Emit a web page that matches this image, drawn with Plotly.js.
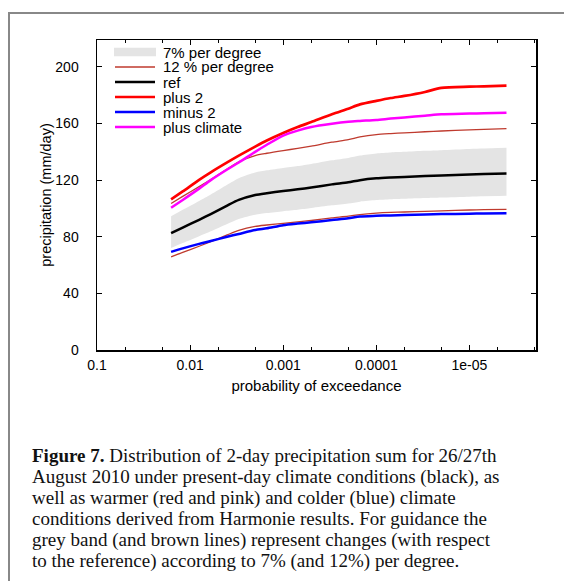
<!DOCTYPE html>
<html>
<head>
<meta charset="utf-8">
<script src="https://cdn.plot.ly/plotly-3.0.1.min.js"></script>
<style>
  html, body { margin:0; padding:0; background:#fff; width:564px; height:581px; overflow:hidden; }
  #frame { position:absolute; left:8px; top:12px; width:700px; height:700px;
           border-left:2px solid #888; border-top:2px solid #888; }
  #chart { position:absolute; left:0; top:0; width:564px; height:581px; }
  #caption { position:absolute; left:32px; top:445px; width:530px;
             font-family:"Liberation Serif","DejaVu Serif",serif; font-size:19px;
             line-height:21px; color:#111; white-space:nowrap; }
</style>
</head>
<body>
<div id="frame"></div>
<div id="chart"></div>
<div id="caption"><b>Figure 7.</b> Distribution of 2-day precipitation sum for 26/27th<br>August 2010 under present-day climate conditions (black), as<br>well as warmer (red and pink) and colder (blue) climate<br>conditions derived from Harmonie results. For guidance the<br>grey band (and brown lines) represent changes (with respect<br>to the reference) according to 7% (and 12%) per degree.</div>
<script>
// probability of exceedance (x)
const prob = [0.016, 0.012, 0.008, 0.006, 0.004, 0.003, 0.002, 0.0015, 0.001, 0.0007, 0.0005,
              0.0003, 0.0002, 0.00015, 0.0001, 0.00007, 0.00005, 0.00003, 0.00002, 0.00001, 0.000007, 0.000004];
// precipitation (mm/day)
const ref = [82.5, 86.5, 92, 96, 102, 106, 109.5, 110.8, 112.3, 113.5, 114.8,
             117, 118.5, 120, 121.3, 121.9, 122.3, 122.9, 123.3, 124, 124.3, 124.7];
const plus2 = [106.4, 112, 120.2, 125.5, 132.5, 137.3, 143.7, 148, 153.3, 157.5, 161,
               166.5, 170.5, 173.5, 176, 178, 179.5, 182.3, 185.2, 186, 186.3, 186.7];
const minus2 = [69.3, 71.8, 75, 77, 80, 82, 84.8, 86, 88.2, 89.3, 90.2,
                91.8, 93, 94.3, 94.8, 95.1, 95.3, 95.7, 96, 96.3, 96.4, 96.6];
const plusClimate = [100.5, 106, 114, 120, 127.5, 132.5, 140, 145, 151.5, 155, 157.5,
                     159.8, 161.2, 161.8, 162.5, 163.5, 164.3, 165.5, 166.5, 167, 167.3, 167.6];
// 7% per degree band
const band7Upper = [94.5, 99.0, 105.3, 109.9, 116.8, 121.4, 125.4, 126.9, 128.6, 129.9, 131.4,
                    134.0, 135.7, 137.4, 138.9, 139.6, 140.0, 140.7, 141.2, 142.0, 142.3, 142.8];
const band7Lower = [72.1, 75.6, 80.4, 83.9, 89.1, 92.6, 95.6, 96.8, 98.1, 99.1, 100.3,
                    102.2, 103.5, 104.8, 105.9, 106.5, 106.8, 107.3, 107.7, 108.3, 108.6, 108.9];
// 12% per degree lines
const line12Upper = [103.5, 108.5, 115.4, 120.4, 127.9, 133.0, 137.4, 139.0, 140.9, 142.4, 144.0,
                     146.8, 148.6, 150.5, 152.2, 152.9, 153.4, 154.2, 154.7, 155.5, 155.9, 156.4];
const line12Lower = [65.8, 69.0, 73.3, 76.5, 81.3, 84.5, 87.3, 88.3, 89.5, 90.5, 91.5,
                     93.3, 94.5, 95.7, 96.7, 97.2, 97.5, 98.0, 98.3, 98.9, 99.1, 99.4];

const xTickVals = [0.1, 0.01, 0.001, 0.0001, 0.00001];
const xTickText = ["0.1", "0.01", "0.001", "0.0001", "1e-05"];
const xMinorVals = [0.05, 0.02, 0.005, 0.002, 0.0005, 0.0002, 0.00005, 0.00002, 0.000005, 0.000002];
const yTickVals = [0, 40, 80, 120, 160, 200];

const legendNames = ["7% per degree", "12 % per degree", "ref", "plus 2", "minus 2", "plus climate"];

const BROWN = "#bf3a2e", GREY = "#e4e4e4";
const sans = "Liberation Sans, Arial, sans-serif";
const SM = 0.7;

const traces = [
  {x: prob, y: band7Lower, mode: "lines", line: {width: 0, color: GREY, shape: "spline", smoothing: SM}, hoverinfo: "skip", showlegend: false},
  {x: prob, y: band7Upper, mode: "lines", fill: "tonexty", fillcolor: GREY, line: {width: 0, color: GREY, shape: "spline", smoothing: SM},
   name: legendNames[0], showlegend: false},
  {x: prob, y: line12Upper, mode: "lines", line: {color: BROWN, width: 1.3, shape: "spline", smoothing: SM}, name: legendNames[1], showlegend: false},
  {x: prob, y: line12Lower, mode: "lines", line: {color: BROWN, width: 1.3, shape: "spline", smoothing: SM}, name: legendNames[1], showlegend: false},
  {x: prob, y: ref, mode: "lines", line: {color: "#000", width: 2.5, shape: "spline", smoothing: SM}, name: legendNames[2], showlegend: false},
  {x: prob, y: plus2, mode: "lines", line: {color: "#ff0000", width: 2.7, shape: "spline", smoothing: SM}, name: legendNames[3], showlegend: false},
  {x: prob, y: minus2, mode: "lines", line: {color: "#0000ff", width: 2.5, shape: "spline", smoothing: SM}, name: legendNames[4], showlegend: false},
  {x: prob, y: plusClimate, mode: "lines", line: {color: "#ff00ff", width: 2.5, shape: "spline", smoothing: SM}, name: legendNames[5], showlegend: false}
];

// plot area in pixels: left 97, right 536, top 40, bottom 350
const PL = 97, PR = 536, PT = 40, PB = 350;
const px = v => (v - PL) / (PR - PL);
const py = v => (PB - v) / (PB - PT);

const legendStyles = [
  {fill: GREY}, {color: BROWN, width: 1.3}, {color: "#000", width: 2.5},
  {color: "#ff0000", width: 2.5}, {color: "#0000ff", width: 2.5}, {color: "#ff00ff", width: 2.5}
];
const shapes = [], annotations = [];
legendNames.forEach((nm, i) => {
  const yc = 52 + i * 15;
  const st = legendStyles[i];
  if (st.fill) {
    shapes.push({type: "rect", xref: "paper", yref: "paper", x0: px(114), x1: px(156),
                 y0: py(yc - 4.3), y1: py(yc + 4.3), fillcolor: st.fill, line: {width: 0}});
  } else {
    shapes.push({type: "line", xref: "paper", yref: "paper", x0: px(115), x1: px(155),
                 y0: py(yc), y1: py(yc), line: {color: st.color, width: st.width}});
  }
  annotations.push({xref: "paper", yref: "paper", x: px(162), y: py(yc), xanchor: "left", yanchor: "middle",
                    borderpad: 0, text: nm, showarrow: false, font: {family: sans, size: 15, color: "#000"}});
});

const layout = {
  width: 564, height: 581,
  margin: {l: PL, r: 564 - PR, t: PT, b: 581 - PB, pad: 0},
  paper_bgcolor: "rgba(0,0,0,0)", plot_bgcolor: "#fff",
  showlegend: false,
  font: {family: sans, size: 14, color: "#000"},
  xaxis: {
    type: "log", range: [-1, -5.715],
    tickvals: xTickVals, ticktext: xTickText,
    ticks: "inside", ticklen: 5, tickwidth: 1, tickcolor: "#000",
    minor: {tickvals: xMinorVals, ticks: "inside", ticklen: 3, tickcolor: "#000", showgrid: false},
    showline: true, linecolor: "#000", linewidth: 1.5, mirror: "ticks",
    showgrid: false, zeroline: false,
    tickfont: {family: sans, size: 14},
    ticklabelstandoff: 2,
    title: {text: "probability of exceedance", font: {family: sans, size: 15}, standoff: 8}
  },
  yaxis: {
    range: [0, 219], tickvals: yTickVals,
    ticks: "inside", ticklen: 5, tickwidth: 1, tickcolor: "#000",
    showline: true, linecolor: "#000", linewidth: 1.5, mirror: "ticks",
    showgrid: false, zeroline: false,
    tickfont: {family: sans, size: 14},
    ticklabelstandoff: 14,
    title: {text: "precipitation (mm/day)", font: {family: sans, size: 14.5}, standoff: 0}
  },
  shapes: shapes,
  annotations: annotations
};

Plotly.newPlot("chart", traces, layout, {displayModeBar: false, staticPlot: true});
</script>
</body>
</html>
